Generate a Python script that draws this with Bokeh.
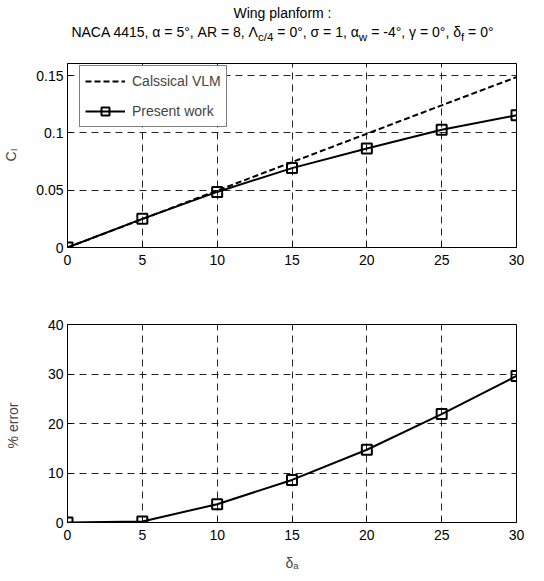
from bokeh.plotting import figure
from bokeh.layouts import column
from bokeh.models import Div, Legend, LegendItem, Range1d, FixedTicker
from bokeh.embed import file_html
from bokeh.resources import INLINE

# ---- data ----
delta_a = [0, 5, 10, 15, 20, 25, 30]
cl_vlm = [0.0, 0.0248, 0.0497, 0.0745, 0.0993, 0.1241, 0.1487]
cl_present = [0.0, 0.0250, 0.0485, 0.0693, 0.0864, 0.1027, 0.1154]
pct_error = [0.0, 0.2, 3.7, 8.6, 14.7, 21.9, 29.6]
x_ticks = [0, 5, 10, 15, 20, 25, 30]
cl_ticks = [0, 0.05, 0.1, 0.15]
err_ticks = [0, 10, 20, 30, 40]
series_names = ["Calssical VLM", "Present work"]

FONT = "'Liberation Sans', Arial, sans-serif"
FS = "14px"

title_html = (
    f'<div style="margin-left:50px;width:465px;text-align:center;font-family:{FONT};'
    f'font-size:14px;line-height:19px;color:#000;margin-top:4px">'
    'Wing planform :<br>'
    'NACA 4415, &alpha; = 5&deg;, AR = 8, &Lambda;<sub>c/4</sub> = 0&deg;, &sigma; = 1, '
    '&alpha;<sub>w</sub> = -4&deg;, &gamma; = 0&deg;, &delta;<sub>f</sub> = 0&deg;</div>'
)
div = Div(text=title_html, width=544, height=58, margin=(0, 0, 0, 0))


def style(p, xt, yt, ylab_standoff):
    p.outline_line_color = "black"
    p.outline_line_width = 1
    p.background_fill_color = "white"
    p.border_fill_color = "white"
    for ax in (p.xaxis[0], p.yaxis[0]):
        ax.major_label_text_font = FONT
        ax.major_label_text_font_size = FS
        ax.major_label_text_color = "black"
        ax.axis_label_text_font = FONT
        ax.axis_label_text_font_size = FS
        ax.axis_label_text_font_style = "normal"
        ax.axis_line_color = "black"
        ax.major_tick_line_color = "black"
        ax.major_tick_in = 5
        ax.major_tick_out = 0
        ax.minor_tick_line_color = None
    p.xaxis[0].major_label_standoff = 7
    p.yaxis[0].major_label_standoff = 4
    p.xaxis[0].axis_label_standoff = 12
    p.yaxis[0].axis_label_standoff = ylab_standoff
    p.xaxis[0].ticker = FixedTicker(ticks=xt)
    p.yaxis[0].ticker = FixedTicker(ticks=yt)
    p.xaxis[0].major_label_overrides = {t: f"{t:g}" for t in xt}
    p.yaxis[0].major_label_overrides = {t: f"{t:g}" for t in yt}
    for g in (p.xgrid[0], p.ygrid[0]):
        g.grid_line_color = "black"
        g.grid_line_dash = "7 5"
        g.grid_line_width = 1
        g.grid_line_alpha = 0.85
    p.xgrid[0].ticker = FixedTicker(ticks=xt)
    p.ygrid[0].ticker = FixedTicker(ticks=yt)


p1 = figure(frame_width=449, frame_height=184, output_backend="svg", toolbar_location=None,
            x_range=Range1d(0, 30), y_range=Range1d(0, 0.1606),
            min_border_left=66, min_border_right=29, min_border_top=5, min_border_bottom=51)
style(p1, x_ticks, cl_ticks, 14)
p1.yaxis[0].axis_label = "Cₗ"

r_vlm = p1.line(delta_a, cl_vlm, line_color="black", line_width=2, line_dash="6 3")
r_pl = p1.line(delta_a, cl_present, line_color="black", line_width=2)
r_pm = p1.scatter(delta_a, cl_present, marker="square", size=10, line_color="black",
                  line_width=2, fill_color=None)

legend = Legend(items=[LegendItem(label=series_names[0], renderers=[r_vlm]),
                       LegendItem(label=series_names[1], renderers=[r_pl, r_pm])],
                location=(12, 120), padding=5, spacing=10, glyph_width=40, glyph_height=20,
                label_height=20, label_standoff=7, margin=0,
                border_line_color="black", border_line_width=1,
                background_fill_color="white", background_fill_alpha=1,
                label_text_font=FONT, label_text_font_size=FS)
p1.add_layout(legend, "center")

p2 = figure(frame_width=449, frame_height=198, output_backend="svg", toolbar_location=None,
            x_range=Range1d(0, 30), y_range=Range1d(0, 40),
            min_border_left=66, min_border_right=29, min_border_top=26, min_border_bottom=59)
style(p2, x_ticks, err_ticks, 24)
p2.yaxis[0].axis_label = "%  error"
p2.xaxis[0].axis_label = "δₐ"
p2.line(delta_a, pct_error, line_color="black", line_width=2)
p2.scatter(delta_a, pct_error, marker="square", size=10, line_color="black",
           line_width=2, fill_color=None)

layout = column(div, p1, p2, spacing=0)
open("out.html", "w").write(file_html(layout, INLINE))
